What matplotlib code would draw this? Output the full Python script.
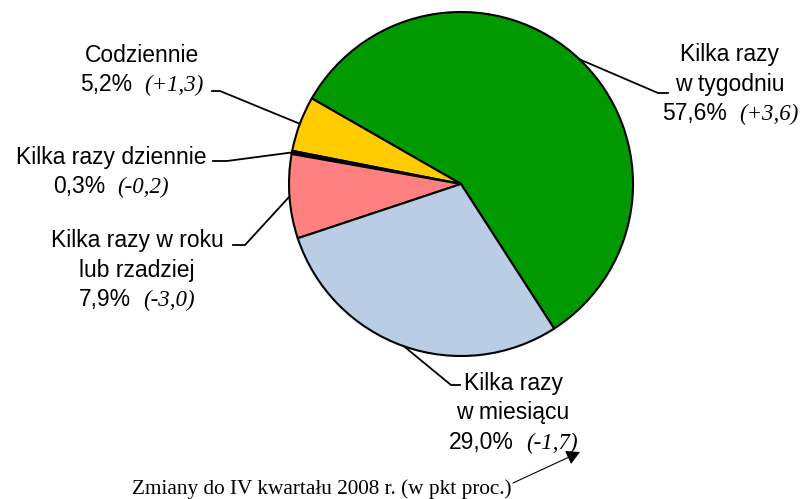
import numpy as np
import matplotlib
matplotlib.use('Agg')
import matplotlib.pyplot as plt
from matplotlib.offsetbox import TextArea, VPacker, HPacker, AnnotationBbox

# data (share in %, change vs IV quarter 2008 in pp)
categories = ['Kilka razy\nw tygodniu', 'Codziennie', 'Kilka razy dziennie',
              'Kilka razy w roku\nlub rzadziej', 'Kilka razy\nw miesiącu']
shares = [57.6, 5.2, 0.3, 7.9, 29.0]
changes = ['+3,6', '+1,3', '-0,2', '-3,0', '-1,7']
colors = ['#009900', '#FFCC00', '#000000', '#FF8080', '#B9CDE5']

W, H = 805, 499


def Y(y):
    # image pixel row -> data y (y axis points up)
    return H - y


# label layout in image pixels: text centre, elbow start, elbow end
layout = [
    ((730, 84), (668, 93), (658, 93)),
    ((142, 70), (212, 91), (220, 91)),
    ((111, 172), (213, 161), (227, 161)),
    ((137, 270), (233, 245), (245, 245)),
    ((513, 413), (460, 385), (451, 385)),
]

sans = 'Liberation Sans'
serif = 'Liberation Serif'
fs = 16.5

fig = plt.figure(figsize=(W / 100, H / 100), dpi=100)
ax = fig.add_axes([0, 0, 1, 1])

cx, cy, r = 461, Y(184), 172
wedges, _ = ax.pie(shares, colors=colors, startangle=-57.2, counterclock=True,
                   center=(cx, cy), radius=r,
                   wedgeprops=dict(edgecolor='black', linewidth=1.5))

for w, cat, val, chg, (tc, e1, e2) in zip(wedges, categories, shares, changes, layout):
    ang = np.deg2rad((w.theta1 + w.theta2) / 2)
    px, py = cx + r * np.cos(ang), cy + r * np.sin(ang)
    ax.plot([px, e2[0], e1[0]], [py, Y(e2[1]), Y(e1[1])], color='black', lw=1.3)

    lines = [TextArea(t, textprops=dict(family=sans, size=fs)) for t in cat.split('\n')]
    pct = TextArea(f'{val:.1f}'.replace('.', ',') + '%', textprops=dict(family=sans, size=fs))
    ch = TextArea(f'({chg})', textprops=dict(family=serif, style='italic', size=fs))
    lines.append(HPacker(children=[pct, ch], align='baseline', pad=0, sep=9))
    box = VPacker(children=lines, align='center', pad=0, sep=5)
    ab = AnnotationBbox(box, (tc[0], Y(tc[1])), xycoords='data', frameon=False,
                        box_alignment=(0.5, 0.5), pad=0)
    ax.add_artist(ab)

ax.text(322, Y(489), 'Zmiany do IV kwartału 2008 r. (w pkt proc.)', family=serif,
        size=15.3, ha='center', va='center')
ax.annotate('', xy=(580, Y(452)), xytext=(513, Y(483)),
            arrowprops=dict(arrowstyle='-|>,head_length=0.55,head_width=0.3',
                            color='black', lw=0.8, mutation_scale=15,
                            shrinkA=0, shrinkB=0))

ax.set_xlim(0, W)
ax.set_ylim(0, H)
ax.set_aspect('equal')
ax.axis('off')

fig.savefig('out.png', dpi=100)
